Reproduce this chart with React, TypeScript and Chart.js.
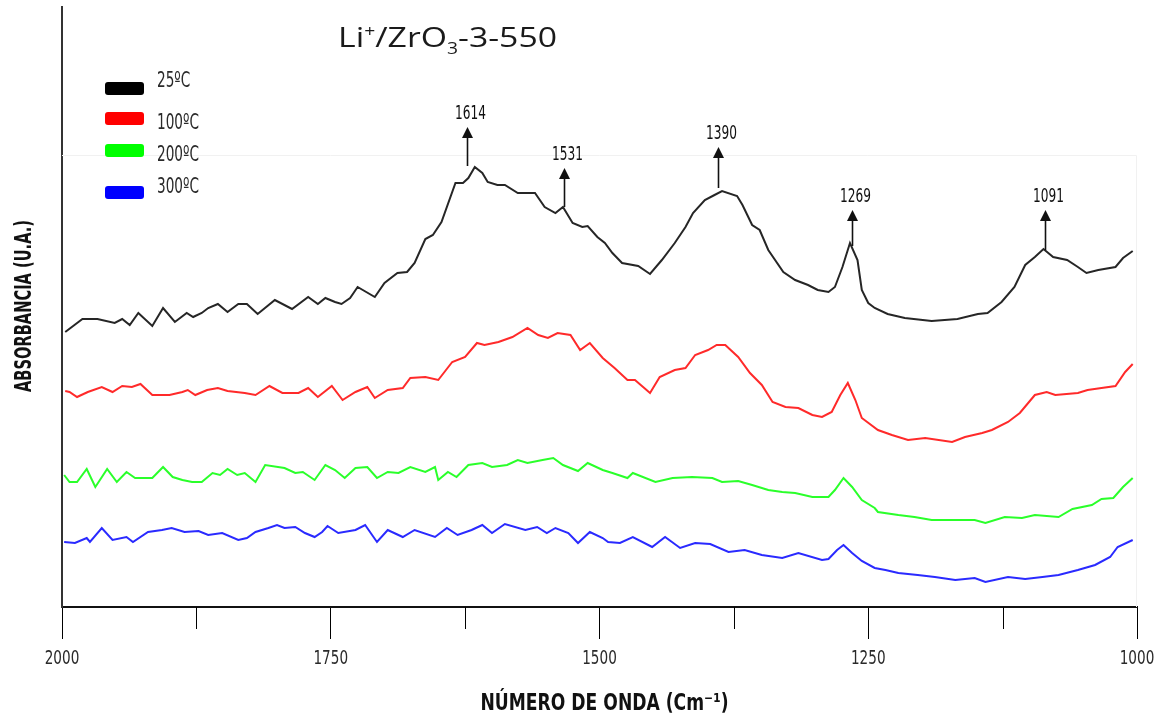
import React, { useEffect, useRef } from "react";
import { Chart, registerables } from "chart.js";

Chart.register(...registerables);

// ---- data (wavenumber in cm-1, absorbance in arbitrary units) ----
const wave25 = [1997,1981,1967,1951,1944,1937,1929,1916,1906,1895,1884,1878,1870,1864,1855,1846,1836,1828,1818,1802,1786,1771,1762,1755,1746,1740,1732,1725,1709,1700,1688,1679,1672,1662,1655,1647,1634,1627,1622,1616,1609,1604,1595,1588,1576,1567,1560,1551,1541,1534,1525,1516,1511,1502,1495,1488,1479,1464,1453,1442,1430,1420,1413,1402,1393,1386,1372,1367,1358,1351,1343,1329,1318,1306,1297,1287,1281,1274,1267,1260,1256,1250,1244,1232,1216,1191,1167,1148,1139,1126,1114,1104,1095,1087,1078,1065,1055,1047,1036,1020,1013,1004];
const abs25 = [275,288,288,284,288,282,294,281,299,285,294,290,294,299,303,295,303,303,293,307,298,310,303,309,305,303,309,320,310,324,334,335,344,368,372,385,424,424,429,440,434,425,422,422,414,414,414,400,394,400,384,380,381,370,364,354,344,341,333,347,364,380,394,407,412,416,411,402,382,377,357,335,327,322,317,315,320,340,364,347,317,304,299,293,289,286,288,293,294,305,320,342,350,358,350,347,340,334,337,340,349,356];

const wave100 = [1997,1993,1986,1976,1963,1953,1944,1935,1927,1916,1900,1888,1883,1876,1865,1855,1846,1830,1820,1807,1795,1780,1771,1762,1749,1739,1727,1716,1709,1697,1683,1676,1662,1650,1637,1625,1614,1607,1594,1581,1567,1557,1548,1539,1527,1518,1509,1497,1486,1474,1467,1453,1444,1430,1420,1411,1399,1391,1383,1371,1360,1349,1339,1327,1315,1302,1293,1284,1276,1269,1262,1256,1241,1228,1213,1197,1172,1160,1144,1135,1120,1109,1095,1084,1076,1055,1046,1033,1020,1011,1004];
const abs100 = [216,215,210,215,220,215,221,220,223,212,212,215,217,212,217,219,216,214,212,221,214,214,219,210,221,207,215,220,209,217,219,229,230,227,245,250,264,262,265,270,279,272,269,274,272,257,264,249,239,227,227,214,230,237,239,252,257,262,262,250,234,222,205,200,199,192,190,195,212,224,207,189,177,172,167,169,165,170,174,177,185,194,212,215,212,214,217,219,221,235,243];

const wave200 = [1998,1993,1986,1977,1969,1958,1949,1940,1932,1916,1906,1897,1888,1879,1870,1860,1853,1846,1837,1830,1820,1811,1793,1783,1776,1765,1755,1746,1737,1727,1716,1707,1697,1687,1676,1662,1653,1650,1641,1633,1622,1609,1600,1586,1576,1567,1553,1543,1534,1520,1511,1497,1488,1474,1469,1448,1432,1414,1395,1386,1371,1358,1343,1330,1318,1302,1287,1281,1273,1265,1256,1244,1241,1222,1207,1191,1172,1151,1141,1123,1107,1095,1073,1060,1042,1033,1022,1013,1004];
const abs200 = [132,125,125,138,120,138,125,135,129,129,140,130,127,125,125,134,132,138,132,134,125,142,139,134,135,127,142,137,129,139,140,129,135,134,140,135,140,127,135,130,142,144,140,142,147,144,147,149,142,136,144,137,134,129,134,125,129,130,129,125,126,122,117,115,114,110,110,117,129,120,107,99,95,92,90,87,87,87,84,90,89,92,90,98,102,108,109,120,129];

const wave300 = [1998,1988,1977,1974,1963,1953,1940,1934,1920,1907,1898,1886,1873,1864,1851,1836,1828,1820,1808,1800,1793,1783,1774,1765,1758,1753,1743,1727,1718,1707,1697,1683,1672,1653,1642,1632,1619,1609,1600,1588,1569,1558,1549,1541,1529,1520,1509,1497,1492,1481,1469,1451,1439,1425,1411,1397,1380,1365,1349,1330,1315,1293,1287,1279,1273,1265,1256,1244,1234,1222,1204,1188,1169,1151,1141,1120,1104,1088,1073,1055,1039,1025,1018,1004];
const abs300 = [65,64,69,65,79,67,70,65,75,77,79,75,76,72,74,67,69,75,79,82,79,80,74,70,75,81,74,77,82,65,77,70,77,70,79,72,77,82,74,83,77,80,74,79,74,64,75,69,65,64,70,60,70,59,64,63,55,57,52,49,54,47,48,57,62,54,46,39,37,34,32,30,27,29,25,30,28,30,32,37,42,50,60,67];

const seriesLabels = ["25ºC", "100ºC", "200ºC", "300ºC"];
const xTickValues = [2000, 1750, 1500, 1250, 1000];
const xMinorTicks = [1875, 1625, 1375, 1125];
const xTitle = "NÚMERO DE ONDA (Cm⁻¹)";
const yTitle = "ABSORBANCIA (U.A.)";

// peak annotations
const peakLabels = ["1614", "1531", "1390", "1269", "1091"];
const peakPos = [1623, 1533, 1390, 1265, 1086];
const peakTip = [480, 439, 460, 397, 397];
const peakBase = [441, 400, 419, 361, 357];

const SANS = '"DejaVu Sans", sans-serif';
const COLORS = ["#262626", "#ff2a2a", "#2aff2a", "#2a2aff"];
const SWATCH = ["#000000", "#ff0000", "#00ff00", "#0000ff"];

function zip(xs: number[], ys: number[]) {
  return xs.map((x, i) => ({ x, y: ys[i] }));
}

// draws text horizontally squeezed by sx (or fitted to a width when fitW given)
function squeezed(
  ctx: CanvasRenderingContext2D,
  text: string,
  x: number,
  y: number,
  font: string,
  sx: number,
  align: "left" | "center",
  rot = 0,
  fitW = 0
) {
  ctx.save();
  ctx.font = font;
  ctx.textBaseline = "middle";
  ctx.textAlign = align;
  let s = sx;
  if (fitW > 0) s = fitW / ctx.measureText(text).width;
  ctx.translate(x, y);
  if (rot) ctx.rotate(rot);
  ctx.scale(s, 1);
  ctx.fillText(text, 0, 0);
  ctx.restore();
}

const decorPlugin = {
  id: "decor",
  beforeDatasetsDraw(chart: any) {
    const ctx = chart.ctx as CanvasRenderingContext2D;
    const { left, right, bottom } = chart.chartArea;
    ctx.save();
    ctx.strokeStyle = "#f1f1f1";
    ctx.lineWidth = 1;
    ctx.beginPath();
    ctx.moveTo(left, 155.5);
    ctx.lineTo(right - 0.5, 155.5);
    ctx.lineTo(right - 0.5, bottom);
    ctx.stroke();
    ctx.restore();
  },
  afterDraw(chart: any) {
    const ctx = chart.ctx as CanvasRenderingContext2D;
    const xs = chart.scales.x;
    const ys = chart.scales.y;
    const { bottom, left, right, top } = chart.chartArea;
    ctx.save();
    // minor ticks
    ctx.strokeStyle = "#000";
    ctx.lineWidth = 1;
    xMinorTicks.forEach((v) => {
      const px = Math.round(xs.getPixelForValue(v)) + 0.5;
      ctx.beginPath();
      ctx.moveTo(px, bottom);
      ctx.lineTo(px, bottom + 22);
      ctx.stroke();
    });
    // x tick labels
    ctx.fillStyle = "#2a2a2a";
    xTickValues.forEach((v) => {
      squeezed(ctx, String(v), xs.getPixelForValue(v), 659, "20px " + SANS, 0.68, "center");
    });
    // axis titles
    ctx.fillStyle = "#111";
    squeezed(ctx, xTitle, (left + right) / 2 + 5, 704, "bold 23px " + SANS, 1, "center", 0, 248);
    squeezed(ctx, yTitle, 25, 306, "bold 23px " + SANS, 1, "center", -Math.PI / 2, 172);
    // arrows
    ctx.fillStyle = "#111";
    ctx.strokeStyle = "#111";
    peakLabels.forEach((lab, i) => {
      const px = Math.round(xs.getPixelForValue(peakPos[i])) + 0.5;
      const tip = ys.getPixelForValue(peakTip[i]);
      const base = ys.getPixelForValue(peakBase[i]);
      ctx.lineWidth = 1.6;
      ctx.beginPath();
      ctx.moveTo(px, base);
      ctx.lineTo(px, tip + 8);
      ctx.stroke();
      ctx.beginPath();
      ctx.moveTo(px, tip);
      ctx.lineTo(px - 5.5, tip + 11);
      ctx.lineTo(px + 5.5, tip + 11);
      ctx.closePath();
      ctx.fill();
      squeezed(ctx, lab, px + 3, tip - 13, "19px " + SANS, 0.64, "center");
    });
    // title
    ctx.fillStyle = "#1a1a1a";
    ctx.textBaseline = "alphabetic";
    ctx.textAlign = "left";
    const big = '28px "Open Sans", sans-serif';
    const small = '16px "Open Sans", sans-serif';
    const parts: [string, string, number][] = [
      ["Li", big, 0],
      ["+", small, -10],
      ["/ZrO", big, 0],
      ["3", small, 7],
      ["-3-550", big, 0],
    ];
    let total = 0;
    parts.forEach(([t, f]) => {
      ctx.font = f;
      total += ctx.measureText(t).width;
    });
    const tsx = 219 / total;
    ctx.save();
    ctx.translate(338, 47);
    ctx.scale(tsx, 1);
    let cx = 0;
    parts.forEach(([t, f, dy]) => {
      ctx.font = f;
      ctx.fillText(t, cx, dy);
      cx += ctx.measureText(t).width;
    });
    ctx.restore();
    // legend
    const swY = [82, 112, 144, 186];
    const labY = [81, 123, 155, 187];
    seriesLabels.forEach((lab, i) => {
      ctx.fillStyle = SWATCH[i];
      ctx.beginPath();
      (ctx as any).roundRect(105, swY[i], 39, 13, 3);
      ctx.fill();
      ctx.fillStyle = "#2a2a2a";
      squeezed(ctx, lab, 157, labY[i], "22px " + SANS, 0.62, "left");
    });
    ctx.restore();
  },
};

export default function App() {
  const ref = useRef<HTMLCanvasElement | null>(null);
  useEffect(() => {
    document.body.style.margin = "0";
    const canvas = ref.current!;
    const mk = (label: string, xs: number[], ys: number[], c: string) => ({
      label,
      data: zip(xs, ys),
      borderColor: c,
      backgroundColor: c,
      borderWidth: 2,
      pointRadius: 0,
      tension: 0,
      fill: false,
    });
    const chart = new Chart(canvas, {
      type: "line",
      data: {
        datasets: [
          mk(seriesLabels[0], wave25, abs25, COLORS[0]),
          mk(seriesLabels[1], wave100, abs100, COLORS[1]),
          mk(seriesLabels[2], wave200, abs200, COLORS[2]),
          mk(seriesLabels[3], wave300, abs300, COLORS[3]),
        ],
      },
      options: {
        animation: false,
        responsive: true,
        maintainAspectRatio: false,
        layout: { padding: { left: 0, right: 27, top: 7, bottom: 0 } },
        plugins: { legend: { display: false }, tooltip: { enabled: false }, title: { display: false } },
        scales: {
          x: {
            type: "linear",
            reverse: true,
            min: 1000,
            max: 2000,
            afterBuildTicks: (s: any) => {
              s.ticks = xTickValues.map((v) => ({ value: v }));
            },
            afterFit: (s: any) => {
              s.height = 110;
            },
            grid: { display: true, drawOnChartArea: false, drawTicks: true, tickLength: 32, color: "#000", lineWidth: 1 },
            border: { display: true, color: "#111", width: 2 },
            ticks: { display: false },
            title: { display: false },
          },
          y: {
            type: "linear",
            min: 0,
            max: 600,
            afterFit: (s: any) => {
              s.width = 62;
            },
            grid: { display: false },
            border: { display: true, color: "#333", width: 2 },
            ticks: { display: false },
            title: { display: false },
          },
        },
      },
      plugins: [decorPlugin],
    } as any);
    return () => chart.destroy();
  }, []);
  return (
    <div style={{ position: "fixed", left: 0, top: 0, width: 1164, height: 717, background: "#fff" }}>
      <canvas ref={ref} />
    </div>
  );
}
